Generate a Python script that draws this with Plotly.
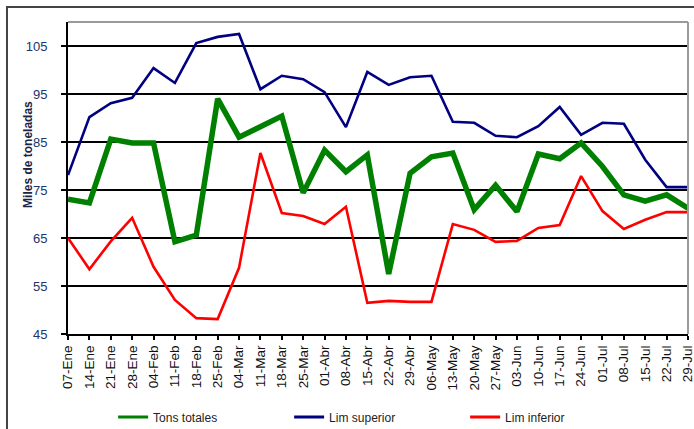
import plotly.graph_objects as go

weeks = ["07-Ene", "14-Ene", "21-Ene", "28-Ene", "04-Feb", "11-Feb", "18-Feb", "25-Feb",
         "04-Mar", "11-Mar", "18-Mar", "25-Mar", "01-Abr", "08-Abr", "15-Abr", "22-Abr",
         "29-Abr", "06-May", "13-May", "20-May", "27-May", "03-Jun", "10-Jun", "17-Jun",
         "24-Jun", "01-Jul", "08-Jul", "15-Jul", "22-Jul", "29-Jul"]

tons_totales = [73.1, 72.3, 85.6, 84.8, 84.8, 64.2, 65.6, 94.0, 86.0, 88.1,
                90.4, 74.4, 83.3, 78.8, 82.3, 57.5, 78.5, 81.9, 82.7, 70.9,
                76.0, 70.5, 82.5, 81.5, 84.8, 79.9, 74.0, 72.7, 74.0, 71.2]

lim_superior = [78.1, 90.2, 93.1, 94.2, 100.4, 97.3, 105.6, 106.9, 107.5, 96.0,
                98.8, 98.1, 95.4, 88.1, 99.6, 96.9, 98.5, 98.8, 89.2, 89.0,
                86.3, 86.0, 88.3, 92.3, 86.5, 89.0, 88.8, 81.3, 75.6, 75.6]

lim_inferior = [65.0, 58.5, 64.3, 69.2, 59.0, 52.1, 48.3, 48.1, 58.8, 82.7,
                70.2, 69.6, 67.9, 71.5, 51.5, 51.9, 51.7, 51.7, 67.9, 66.7,
                64.2, 64.4, 67.1, 67.7, 77.9, 70.6, 66.9, 68.8, 70.4, 70.4]

y_ticks = [45, 55, 65, 75, 85, 95, 105]

series = [
    ("Tons totales", tons_totales, "#008000", 5.5),
    ("Lim superior", lim_superior, "#000080", 2.6),
    ("Lim inferior", lim_inferior, "#FF0000", 2.6),
]

fig = go.Figure()

# data lines (legend handled by thin sample entries below)
for name, vals, color, width in series:
    fig.add_trace(go.Scatter(
        x=list(range(len(weeks))), y=vals, mode="lines", name=name,
        line=dict(color=color, width=width), showlegend=False,
    ))

# legend samples with thin strokes
for name, vals, color, width in series:
    fig.add_trace(go.Scatter(
        x=[None], y=[None], mode="lines", name=name,
        line=dict(color=color, width=3), showlegend=True,
    ))

fig.update_layout(
    width=694, height=429,
    margin=dict(l=68, r=6, t=22, b=95, autoexpand=False),
    paper_bgcolor="white", plot_bgcolor="white",
    font=dict(family="Liberation Sans, Arial, sans-serif", color="#111111"),
    showlegend=True,
    legend=dict(
        orientation="h", xref="container", yref="container",
        x=0.163, y=0.028, xanchor="left", yanchor="middle",
        entrywidth=131, entrywidthmode="pixels", itemwidth=30,
        font=dict(size=12, color="#222222"), bgcolor="rgba(0,0,0,0)",
        tracegroupgap=0,
    ),
    xaxis=dict(
        range=[-0.001, len(weeks) - 1 + 0.001],
        tickmode="array", tickvals=list(range(len(weeks))), ticktext=weeks,
        tickangle=-90, tickfont=dict(size=13.5, color="#111111"),
        ticklabeloverflow="allow",
        ticks="outside", ticklen=4, tickwidth=2, tickcolor="black",
        showline=True, linecolor="black", linewidth=2,
        showgrid=False, zeroline=False, fixedrange=True, automargin=False,
    ),
    yaxis=dict(
        range=[45, 110], tickmode="array", tickvals=y_ticks,
        tickfont=dict(size=13, color="#22336b"),
        ticks="outside", ticklen=5, tickwidth=2, tickcolor="black",
        ticklabelstandoff=11,
        showline=True, linecolor="black", linewidth=2,
        showgrid=True, gridcolor="black", gridwidth=2,
        zeroline=False, fixedrange=True, automargin=False,
    ),
    shapes=[
        # top and right edges of the plot area
        dict(type="line", xref="paper", yref="paper", x0=0, x1=1, y0=1, y1=1,
             line=dict(color="#9a9a9a", width=2)),
        dict(type="line", xref="paper", yref="paper", x0=1, x1=1, y0=0, y1=1,
             line=dict(color="#9a9a9a", width=2)),
        # chart frame
        dict(type="rect", xref="paper", yref="paper",
             x0=-0.0984, x1=1.05, y0=-0.5, y1=1.048,
             line=dict(color="#444444", width=2), fillcolor="rgba(0,0,0,0)",
             layer="above"),
    ],
    annotations=[
        dict(text="<b>Miles de toneladas</b>", textangle=-90,
             xref="paper", yref="paper", x=-0.0645, y=0.574,
             xanchor="center", yanchor="middle", showarrow=False,
             font=dict(size=12, color="#1a2446")),
    ],
)

fig.write_html("out.html")
